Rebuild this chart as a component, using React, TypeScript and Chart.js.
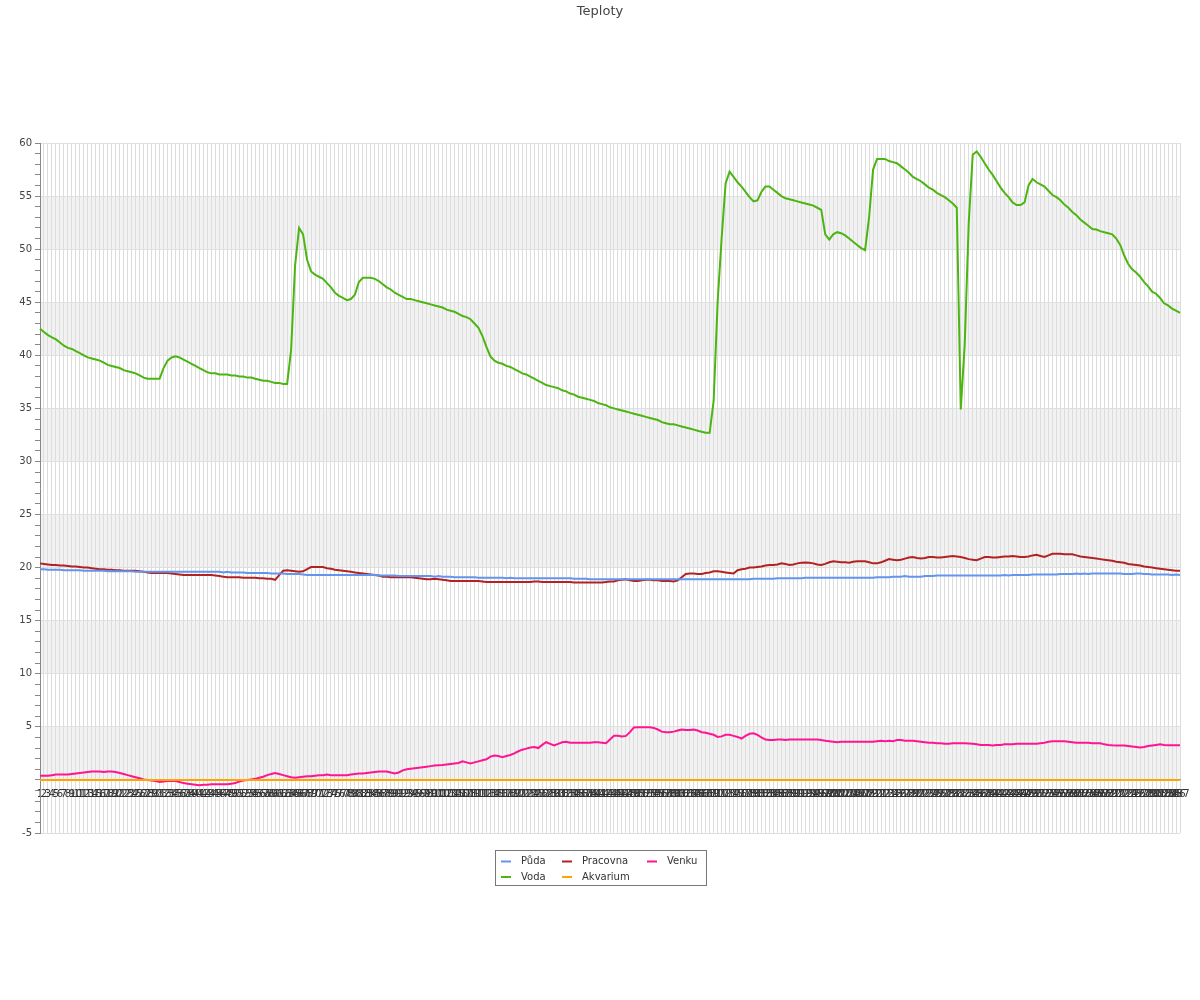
import React, { useEffect, useRef } from 'react';
import { Chart, registerables } from 'chart.js';

Chart.register(...registerables);

const TITLE = 'Teploty';

// x categories: sample numbers 1..287
const CATEGORIES: string[] = Array.from({ length: 287 }, (_, i) => String(i + 1));

// y-axis labelled ticks (every integer gets a small tick mark)
const Y_LABELS = [60, 55, 50, 45, 40, 35, 30, 25, 20, 15, 10, 5, -5];
const Y_BANDS = [[50, 55], [40, 45], [30, 35], [20, 25], [10, 15], [0, 5]];

const PUDA = [
  19.85, 19.85, 19.8, 19.8, 19.8, 19.8, 19.75, 19.75, 19.75, 19.75,
  19.75, 19.7, 19.7, 19.7, 19.7, 19.7, 19.7, 19.65, 19.65, 19.65,
  19.65, 19.65, 19.65, 19.65, 19.6, 19.6, 19.6, 19.6, 19.6, 19.6,
  19.6, 19.6, 19.6, 19.6, 19.6, 19.6, 19.6, 19.6, 19.6, 19.6,
  19.6, 19.6, 19.6, 19.6, 19.6, 19.6, 19.55, 19.6, 19.55, 19.55,
  19.55, 19.55, 19.5, 19.5, 19.5, 19.5, 19.5, 19.5, 19.45, 19.45,
  19.45, 19.45, 19.4, 19.4, 19.4, 19.4, 19.35, 19.3, 19.3, 19.3,
  19.3, 19.3, 19.3, 19.3, 19.3, 19.3, 19.3, 19.3, 19.3, 19.3,
  19.3, 19.3, 19.3, 19.3, 19.3, 19.25, 19.25, 19.25, 19.25, 19.25,
  19.2, 19.2, 19.2, 19.2, 19.2, 19.2, 19.2, 19.2, 19.2, 19.15,
  19.2, 19.15, 19.15, 19.15, 19.1, 19.1, 19.1, 19.1, 19.1, 19.1,
  19.05, 19.05, 19.05, 19.05, 19.05, 19.05, 19.05, 19.0, 19.05, 19.0,
  19.0, 19.0, 19.0, 19.0, 19.0, 19.0, 19.0, 19.0, 19.0, 19.0,
  19.0, 19.0, 19.0, 19.0, 18.95, 18.95, 18.95, 18.95, 18.9, 18.9,
  18.9, 18.9, 18.9, 18.9, 18.9, 18.9, 18.9, 18.9, 18.9, 18.9,
  18.9, 18.9, 18.9, 18.9, 18.9, 18.9, 18.9, 18.9, 18.9, 18.9,
  18.9, 18.9, 18.9, 18.9, 18.9, 18.9, 18.9, 18.9, 18.9, 18.9,
  18.9, 18.9, 18.9, 18.9, 18.9, 18.9, 18.9, 18.9, 18.9, 18.95,
  18.95, 18.95, 18.95, 18.95, 18.95, 19.0, 19.0, 19.0, 19.0, 19.0,
  19.0, 19.0, 19.05, 19.05, 19.05, 19.05, 19.05, 19.05, 19.05, 19.05,
  19.05, 19.05, 19.05, 19.05, 19.05, 19.05, 19.05, 19.05, 19.05, 19.05,
  19.1, 19.1, 19.1, 19.1, 19.15, 19.15, 19.15, 19.2, 19.15, 19.15,
  19.15, 19.15, 19.2, 19.2, 19.2, 19.25, 19.25, 19.25, 19.25, 19.25,
  19.25, 19.25, 19.25, 19.25, 19.25, 19.25, 19.25, 19.25, 19.25, 19.25,
  19.25, 19.25, 19.3, 19.25, 19.3, 19.3, 19.3, 19.3, 19.3, 19.35,
  19.35, 19.35, 19.35, 19.35, 19.35, 19.35, 19.4, 19.4, 19.4, 19.4,
  19.45, 19.4, 19.45, 19.4, 19.45, 19.45, 19.45, 19.45, 19.45, 19.45,
  19.45, 19.45, 19.4, 19.4, 19.4, 19.45, 19.45, 19.4, 19.4, 19.35,
  19.35, 19.35, 19.35, 19.35, 19.3, 19.35, 19.3,
];

const VODA = [
  42.5, 42.2, 41.9, 41.7, 41.5, 41.2, 40.9, 40.7, 40.6, 40.4,
  40.2, 40.0, 39.8, 39.7, 39.6, 39.5, 39.3, 39.1, 39.0, 38.9,
  38.8, 38.6, 38.5, 38.4, 38.3, 38.1, 37.9, 37.8, 37.8, 37.8,
  37.8, 38.8, 39.5, 39.8, 39.9, 39.8, 39.6, 39.4, 39.2, 39.0,
  38.8, 38.6, 38.4, 38.3, 38.3, 38.2, 38.2, 38.2, 38.1, 38.1,
  38.0, 38.0, 37.9, 37.9, 37.8, 37.7, 37.6, 37.6, 37.5, 37.4,
  37.4, 37.3, 37.3, 40.5, 48.5, 52.0, 51.4, 49.0, 47.9, 47.6,
  47.4, 47.2, 46.8, 46.4, 45.9, 45.6, 45.4, 45.2, 45.3, 45.7,
  46.9, 47.3, 47.3, 47.3, 47.2, 47.0, 46.7, 46.4, 46.2, 45.9,
  45.7, 45.5, 45.3, 45.3, 45.2, 45.1, 45.0, 44.9, 44.8, 44.7,
  44.6, 44.5, 44.3, 44.2, 44.1, 43.9, 43.7, 43.6, 43.4, 43.0,
  42.6, 41.8, 40.8, 39.9, 39.5, 39.3, 39.2, 39.0, 38.9, 38.7,
  38.5, 38.3, 38.2, 38.0, 37.8, 37.6, 37.4, 37.2, 37.1, 37.0,
  36.9, 36.7, 36.6, 36.4, 36.3, 36.1, 36.0, 35.9, 35.8, 35.7,
  35.5, 35.4, 35.3, 35.1, 35.0, 34.9, 34.8, 34.7, 34.6, 34.5,
  34.4, 34.3, 34.2, 34.1, 34.0, 33.9, 33.7, 33.6, 33.5, 33.5,
  33.4, 33.3, 33.2, 33.1, 33.0, 32.9, 32.8, 32.7, 32.7, 35.7,
  45.0, 51.0, 56.2, 57.3, 56.8, 56.3, 55.9, 55.4, 54.9, 54.5,
  54.6, 55.4, 55.9, 55.9, 55.6, 55.3, 55.0, 54.8, 54.7, 54.6,
  54.5, 54.4, 54.3, 54.2, 54.1, 53.9, 53.7, 51.4, 50.9, 51.4,
  51.6, 51.5, 51.3, 51.0, 50.7, 50.4, 50.1, 49.9, 53.0, 57.5,
  58.5, 58.5, 58.5, 58.3, 58.2, 58.1, 57.8, 57.5, 57.2, 56.8,
  56.6, 56.4, 56.1, 55.8, 55.6, 55.3, 55.1, 54.9, 54.6, 54.3,
  53.9, 34.9, 41.1, 52.5, 58.9, 59.2, 58.7, 58.1, 57.5, 57.0,
  56.4, 55.8, 55.3, 54.9, 54.4, 54.15, 54.15, 54.4, 56.0, 56.6,
  56.3, 56.1, 55.9, 55.5, 55.1, 54.9, 54.6, 54.2, 53.9, 53.5,
  53.2, 52.8, 52.5, 52.2, 51.9, 51.85, 51.7, 51.6, 51.5, 51.4,
  51.0, 50.4, 49.4, 48.6, 48.1, 47.8, 47.4, 46.9, 46.5, 46.0,
  45.8, 45.4, 44.9, 44.7, 44.4, 44.2, 44.0,
];

const PRACOVNA = [
  20.4, 20.35, 20.3, 20.25, 20.25, 20.2, 20.2, 20.15, 20.1, 20.1,
  20.05, 20.0, 20.0, 19.95, 19.9, 19.85, 19.85, 19.8, 19.8, 19.75,
  19.75, 19.7, 19.7, 19.7, 19.7, 19.65, 19.6, 19.55, 19.5, 19.5,
  19.5, 19.5, 19.5, 19.45, 19.4, 19.35, 19.3, 19.3, 19.3, 19.3,
  19.3, 19.3, 19.3, 19.3, 19.25, 19.2, 19.15, 19.1, 19.1, 19.1,
  19.1, 19.05, 19.05, 19.05, 19.05, 19.0, 19.0, 18.95, 18.95, 18.85,
  19.3, 19.7, 19.75, 19.7, 19.65, 19.6, 19.65, 19.85, 20.05, 20.05,
  20.05, 20.05, 19.95, 19.9, 19.8, 19.75, 19.7, 19.65, 19.6, 19.55,
  19.5, 19.45, 19.4, 19.35, 19.3, 19.25, 19.15, 19.15, 19.1, 19.1,
  19.1, 19.1, 19.1, 19.1, 19.05, 19.0, 18.95, 18.9, 18.9, 18.95,
  18.9, 18.85, 18.8, 18.75, 18.75, 18.75, 18.75, 18.75, 18.75, 18.75,
  18.75, 18.7, 18.65, 18.65, 18.65, 18.65, 18.65, 18.65, 18.65, 18.65,
  18.65, 18.65, 18.65, 18.65, 18.7, 18.7, 18.65, 18.65, 18.65, 18.65,
  18.65, 18.65, 18.65, 18.65, 18.6, 18.6, 18.6, 18.6, 18.6, 18.6,
  18.6, 18.6, 18.65, 18.7, 18.7, 18.8, 18.85, 18.9, 18.8, 18.75,
  18.75, 18.8, 18.85, 18.85, 18.8, 18.8, 18.75, 18.75, 18.75, 18.7,
  18.8, 19.1, 19.4, 19.45, 19.45, 19.4, 19.4, 19.5, 19.55, 19.65,
  19.65, 19.6, 19.55, 19.5, 19.45, 19.75, 19.85, 19.9, 20.0, 20.0,
  20.05, 20.1, 20.2, 20.25, 20.25, 20.3, 20.4, 20.35, 20.25, 20.3,
  20.4, 20.45, 20.47, 20.45, 20.4, 20.3, 20.25, 20.35, 20.5, 20.6,
  20.55, 20.5, 20.5, 20.47, 20.55, 20.6, 20.6, 20.6, 20.5, 20.4,
  20.4, 20.5, 20.65, 20.8, 20.75, 20.7, 20.75, 20.85, 20.95, 21.0,
  20.9, 20.85, 20.9, 21.0, 21.0, 20.95, 20.95, 21.0, 21.05, 21.1,
  21.05, 21.0, 20.9, 20.8, 20.75, 20.7, 20.85, 21.0, 21.0, 20.95,
  20.95, 21.0, 21.05, 21.05, 21.1, 21.05, 21.0, 21.0, 21.05, 21.15,
  21.2, 21.1, 21.0, 21.15, 21.3, 21.3, 21.3, 21.25, 21.25, 21.25,
  21.15, 21.05, 21.0, 20.95, 20.9, 20.85, 20.8, 20.75, 20.7, 20.65,
  20.55, 20.5, 20.45, 20.35, 20.3, 20.25, 20.2, 20.1, 20.05, 20.0,
  19.95, 19.9, 19.85, 19.8, 19.75, 19.7, 19.7,
];

const AKVARIUM = [
  0, 0, 0, 0, 0, 0, 0, 0, 0, 0, 0, 0, 0, 0, 0, 0, 0, 0, 0, 0,
  0, 0, 0, 0, 0, 0, 0, 0, 0, 0, 0, 0, 0, 0, 0, 0, 0, 0, 0, 0,
  0, 0, 0, 0, 0, 0, 0, 0, 0, 0, 0, 0, 0, 0, 0, 0, 0, 0, 0, 0,
  0, 0, 0, 0, 0, 0, 0, 0, 0, 0, 0, 0, 0, 0, 0, 0, 0, 0, 0, 0,
  0, 0, 0, 0, 0, 0, 0, 0, 0, 0, 0, 0, 0, 0, 0, 0, 0, 0, 0, 0,
  0, 0, 0, 0, 0, 0, 0, 0, 0, 0, 0, 0, 0, 0, 0, 0, 0, 0, 0, 0,
  0, 0, 0, 0, 0, 0, 0, 0, 0, 0, 0, 0, 0, 0, 0, 0, 0, 0, 0, 0,
  0, 0, 0, 0, 0, 0, 0, 0, 0, 0, 0, 0, 0, 0, 0, 0, 0, 0, 0, 0,
  0, 0, 0, 0, 0, 0, 0, 0, 0, 0, 0, 0, 0, 0, 0, 0, 0, 0, 0, 0,
  0, 0, 0, 0, 0, 0, 0, 0, 0, 0, 0, 0, 0, 0, 0, 0, 0, 0, 0, 0,
  0, 0, 0, 0, 0, 0, 0, 0, 0, 0, 0, 0, 0, 0, 0, 0, 0, 0, 0, 0,
  0, 0, 0, 0, 0, 0, 0, 0, 0, 0, 0, 0, 0, 0, 0, 0, 0, 0, 0, 0,
  0, 0, 0, 0, 0, 0, 0, 0, 0, 0, 0, 0, 0, 0, 0, 0, 0, 0, 0, 0,
  0, 0, 0, 0, 0, 0, 0, 0, 0, 0, 0, 0, 0, 0, 0, 0, 0, 0, 0, 0,
  0, 0, 0, 0, 0, 0, 0,
];

const VENKU = [
  0.4, 0.4, 0.4, 0.45, 0.5, 0.5, 0.5, 0.5, 0.55, 0.6,
  0.65, 0.7, 0.75, 0.8, 0.8, 0.8, 0.75, 0.8, 0.8, 0.75,
  0.65, 0.55, 0.45, 0.35, 0.25, 0.15, 0.05, 0.0, -0.05, -0.1,
  -0.2, -0.15, -0.1, -0.1, -0.1, -0.2, -0.3, -0.35, -0.4, -0.45,
  -0.5, -0.45, -0.45, -0.4, -0.4, -0.4, -0.4, -0.4, -0.35, -0.3,
  -0.15, -0.05, 0.0, 0.05, 0.1, 0.2, 0.3, 0.45, 0.55, 0.65,
  0.55, 0.45, 0.35, 0.25, 0.2, 0.25, 0.3, 0.35, 0.35, 0.4,
  0.45, 0.45, 0.5, 0.45, 0.45, 0.45, 0.45, 0.45, 0.5, 0.55,
  0.6, 0.6, 0.65, 0.7, 0.75, 0.8, 0.8, 0.8, 0.7, 0.6,
  0.7, 0.9, 1.0, 1.05, 1.1, 1.15, 1.2, 1.25, 1.3, 1.35,
  1.38, 1.4, 1.45, 1.5, 1.55, 1.6, 1.75, 1.65, 1.55, 1.65,
  1.75, 1.85, 1.95, 2.2, 2.3, 2.25, 2.15, 2.25, 2.35, 2.5,
  2.7, 2.85, 2.95, 3.05, 3.1, 3.0, 3.3, 3.55, 3.4, 3.25,
  3.4, 3.55, 3.6, 3.5, 3.5, 3.5, 3.5, 3.5, 3.5, 3.55,
  3.55, 3.5, 3.45, 3.8, 4.15, 4.15, 4.1, 4.15, 4.5, 4.95,
  4.97, 4.97, 4.97, 4.97, 4.9, 4.75, 4.55, 4.5, 4.5, 4.55,
  4.65, 4.75, 4.7, 4.7, 4.75, 4.65, 4.5, 4.45, 4.35, 4.25,
  4.05, 4.1, 4.25, 4.25, 4.15, 4.05, 3.9, 4.15, 4.35, 4.4,
  4.25, 4.0, 3.8, 3.75, 3.75, 3.8, 3.8, 3.75, 3.8, 3.8,
  3.8, 3.8, 3.8, 3.8, 3.8, 3.8, 3.75, 3.7, 3.65, 3.6,
  3.55, 3.6, 3.6, 3.6, 3.6, 3.6, 3.6, 3.6, 3.6, 3.6,
  3.65, 3.7, 3.65, 3.7, 3.65, 3.75, 3.75, 3.7, 3.7, 3.7,
  3.65, 3.6, 3.55, 3.5, 3.5, 3.45, 3.45, 3.4, 3.4, 3.45,
  3.45, 3.45, 3.45, 3.43, 3.4, 3.35, 3.3, 3.3, 3.3, 3.25,
  3.3, 3.3, 3.35, 3.35, 3.35, 3.4, 3.4, 3.4, 3.4, 3.4,
  3.4, 3.45, 3.5, 3.6, 3.65, 3.65, 3.65, 3.65, 3.6, 3.55,
  3.5, 3.5, 3.5, 3.5, 3.45, 3.45, 3.45, 3.35, 3.3, 3.27,
  3.25, 3.25, 3.25, 3.2, 3.15, 3.1, 3.05, 3.1, 3.2, 3.25,
  3.3, 3.35, 3.3, 3.27, 3.27, 3.27, 3.27,
];

const SERIES_NAMES = ['Půda', 'Voda', 'Pracovna', 'Akvarium', 'Venku'];
const SERIES_COLORS = ['#6495ed', '#4cb512', '#b22222', '#ffa500', '#ff1493'];
const SERIES_DATA = [PUDA, VODA, PRACOVNA, AKVARIUM, VENKU];

const FONT = '"DejaVu Sans", Verdana, sans-serif';

const bandsPlugin = {
  id: 'bands',
  beforeDraw(chart: any) {
    const { ctx, chartArea } = chart;
    const y = chart.scales.y;
    ctx.save();
    ctx.fillStyle = '#f2f2f2';
    Y_BANDS.forEach(([lo, hi]) => {
      const top = y.getPixelForValue(hi);
      const bottom = y.getPixelForValue(lo);
      ctx.fillRect(chartArea.left, top, chartArea.right - chartArea.left, bottom - top);
    });
    ctx.restore();
  },
};

const titleLegendPlugin = {
  id: 'titleLegend',
  afterDraw(chart: any) {
    const ctx = chart.ctx;
    ctx.save();
    ctx.font = `13px ${FONT}`;
    ctx.fillStyle = '#444';
    ctx.textAlign = 'center';
    ctx.textBaseline = 'middle';
    ctx.fillText(TITLE, chart.width / 2, 11.5);

    // legend box
    const boxX = 495.5, boxY = 850.5, boxW = 211, boxH = 35;
    ctx.fillStyle = '#ffffff';
    ctx.fillRect(boxX, boxY, boxW, boxH);
    ctx.strokeStyle = '#777';
    ctx.lineWidth = 1;
    ctx.strokeRect(boxX, boxY, boxW, boxH);
    const colX = [501, 562, 647];
    const rowY = [861.5, 877];
    ctx.font = `10px ${FONT}`;
    ctx.textAlign = 'left';
    ctx.textBaseline = 'middle';
    chart.data.datasets.forEach((ds: any, k: number) => {
      const cx = colX[Math.floor(k / 2)];
      const cy = rowY[k % 2];
      ctx.strokeStyle = ds.borderColor;
      ctx.lineWidth = 2;
      ctx.beginPath();
      ctx.moveTo(cx, cy);
      ctx.lineTo(cx + 10, cy);
      ctx.stroke();
      ctx.fillStyle = '#333';
      ctx.fillText(ds.label, cx + 20, cy);
    });
    ctx.restore();
  },
};

export default function App() {
  const canvasRef = useRef<HTMLCanvasElement | null>(null);

  useEffect(() => {
    if (!canvasRef.current) return;
    const chart = new Chart(canvasRef.current, {
      type: 'line',
      data: {
        labels: CATEGORIES,
        datasets: SERIES_NAMES.map((name, k) => ({
          label: name,
          data: SERIES_DATA[k],
          borderColor: SERIES_COLORS[k],
          backgroundColor: SERIES_COLORS[k],
          borderWidth: 2,
          pointRadius: 0,
          pointHoverRadius: 0,
          tension: 0,
          fill: false,
        })),
      },
      options: {
        responsive: false,
        animation: false,
        events: [],
        layout: { padding: { top: 143, bottom: 167, left: 0, right: 20 } },
        plugins: {
          legend: { display: false },
          title: { display: false },
          tooltip: { enabled: false },
        },
        scales: {
          x: {
            type: 'category',
            position: { y: 0 } as any,
            offset: false,
            grid: {
              color: '#dddddd',
              lineWidth: 1,
              drawTicks: true,
              tickLength: 6,
              tickColor: '#dddddd',
            },
            border: { display: true, color: '#999' },
            ticks: {
              autoSkip: false,
              maxRotation: 0,
              minRotation: 0,
              padding: 2,
              color: '#333',
              font: { family: FONT, size: 10 },
            },
          },
          y: {
            min: -5,
            max: 60,
            position: 'left',
            afterFit: (scale: any) => {
              scale.width = 40;
            },
            grid: {
              color: (c: any) => (c.tick && c.tick.value % 5 === 0 ? '#e0e0e0' : 'rgba(0,0,0,0)'),
              tickColor: '#888',
              tickLength: 5,
              lineWidth: 1,
            },
            border: { display: true, color: '#888' },
            ticks: {
              stepSize: 1,
              autoSkip: false,
              padding: 3,
              color: '#444',
              font: { family: FONT, size: 10 },
              callback: (v: any) => (Y_LABELS.includes(Number(v)) ? String(v) : ''),
            },
          },
        },
      },
      plugins: [bandsPlugin, titleLegendPlugin],
    });
    return () => chart.destroy();
  }, []);

  return (
    <div style={{ position: 'absolute', left: 0, top: 0, width: 1200, height: 1000, background: '#fff' }}>
      <canvas ref={canvasRef} width={1200} height={1000} />
    </div>
  );
}
